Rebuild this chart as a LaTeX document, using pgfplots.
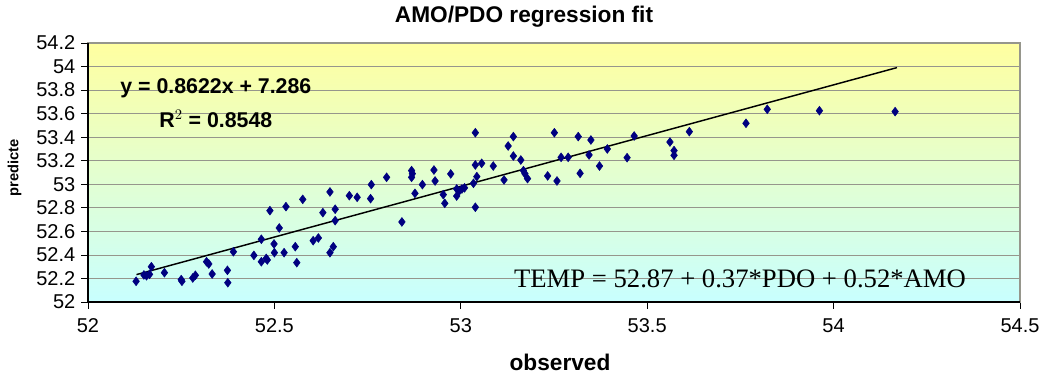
\documentclass[border=0pt]{standalone}
\usepackage{fontspec}
\setmainfont{Liberation Sans}
\newfontfamily\timesfont{Liberation Serif}
\usepackage{pgfplots}
\pgfplotsset{compat=1.18}
\definecolor{navy}{RGB}{0,0,128}
\definecolor{gridgray}{RGB}{150,150,140}
\definecolor{topyellow}{RGB}{255,255,160}
\definecolor{botcyan}{RGB}{200,255,255}
\begin{document}
\begin{tikzpicture}
\path[use as bounding box] (-66pt,-57.75pt) rectangle (725.25pt,226.5pt);
\begin{axis}[
  at={(0pt,0pt)}, anchor=south west,
  scale only axis, width=699pt, height=194.25pt,
  xmin=52, xmax=54.5, ymin=52, ymax=54.2,
  xtick={52,52.5,53,53.5,54,54.5},
  ytick={52,52.2,52.4,52.6,52.8,53,53.2,53.4,53.6,53.8,54,54.2},
  scaled ticks=false,
  xticklabel style={/pgf/number format/fixed,/pgf/number format/precision=1, yshift=-4pt},
  yticklabel style={/pgf/number format/fixed,/pgf/number format/precision=1, xshift=-1pt},
  /pgf/number format/assume math mode=true,
  tick label style={font=\fontsize{15}{16}\selectfont},
  tick align=outside, xtick pos=left, ytick pos=left,
  major tick length=5pt,
  tick style={black, line width=0.6pt},
  ymajorgrids, grid style={gridgray, line width=0.6pt},
  axis line style={gridgray, line width=0.8pt},
  axis background/.style={top color=topyellow, bottom color=botcyan},
  clip=false,
]
\addplot[only marks, mark=diamond*, mark size=3.3pt, navy, mark options={fill=navy, draw=navy}] coordinates {
(52.129,52.176) (52.157,52.223) (52.165,52.235) (52.150,52.230) (52.170,52.300)
(52.205,52.249) (52.252,52.176) (52.250,52.190) (52.281,52.204) (52.288,52.227)
(52.318,52.342) (52.324,52.323) (52.333,52.238) (52.374,52.269) (52.375,52.164)
(52.390,52.427) (52.445,52.396) (52.465,52.533) (52.465,52.342) (52.481,52.357)
(52.478,52.370) (52.488,52.776) (52.499,52.493) (52.500,52.419) (52.513,52.629)
(52.526,52.419) (52.531,52.810) (52.556,52.470) (52.560,52.334) (52.576,52.872)
(52.604,52.521) (52.618,52.544) (52.630,52.759) (52.649,52.935) (52.663,52.788)
(52.663,52.691) (52.658,52.470) (52.649,52.419) (52.701,52.903) (52.722,52.889)
(52.758,52.878) (52.760,52.997) (52.801,53.059) (52.842,52.680) (52.868,53.116)
(52.868,53.059) (52.870,53.090) (52.877,52.923) (52.897,52.997) (52.928,53.121)
(52.931,53.028) (52.953,52.912) (52.957,52.838) (52.973,53.088) (52.989,52.960)
(52.995,52.940) (53.003,52.960) (53.010,52.970) (52.989,52.900) (53.034,53.008)
(53.039,53.438) (53.039,53.164) (53.043,53.065) (53.039,52.805) (53.056,53.178)
(53.087,53.155) (53.116,53.037) (53.127,53.325) (53.141,53.405) (53.141,53.240)
(53.161,53.206) (53.168,53.116) (53.172,53.090) (53.179,53.048) (53.233,53.071)
(53.251,53.438) (53.258,53.028) (53.269,53.229) (53.288,53.229) (53.315,53.405)
(53.320,53.093) (53.344,53.249) (53.349,53.376) (53.372,53.155) (53.393,53.300)
(53.446,53.226) (53.465,53.410) (53.561,53.359) (53.572,53.286) (53.572,53.246)
(53.613,53.447) (53.765,53.518) (53.822,53.637) (53.962,53.625) (54.165,53.617)
};
\addplot[black, line width=1.1pt] coordinates {(52.13,52.2327) (54.17,53.9910)};
\draw[black, line width=0.8pt] (rel axis cs:0,1) -- (rel axis cs:0,0) -- (rel axis cs:1,0);
\node[font=\bfseries\fontsize{16}{18}\selectfont] at (axis cs:52.343,53.818) {y = 0.8622x + 7.286};
\node[font=\bfseries\fontsize{16}{18}\selectfont] at (axis cs:52.343,53.555) {R$^2$ = 0.8548};
\node[font=\timesfont\fontsize{20}{22}\selectfont] at (axis cs:53.749,52.195) {TEMP = 52.87 + 0.37*PDO + 0.52*AMO};
\end{axis}
\node[font=\bfseries\fontsize{17}{19}\selectfont] at (327pt,213.75pt) {AMO/PDO regression fit};
\node[font=\bfseries\fontsize{17}{19}\selectfont] at (354pt,-45pt) {observed};
\node[font=\bfseries\fontsize{11}{13}\selectfont, rotate=90] at (-55pt,100.5pt) {predicte};
\end{tikzpicture}
\end{document}
